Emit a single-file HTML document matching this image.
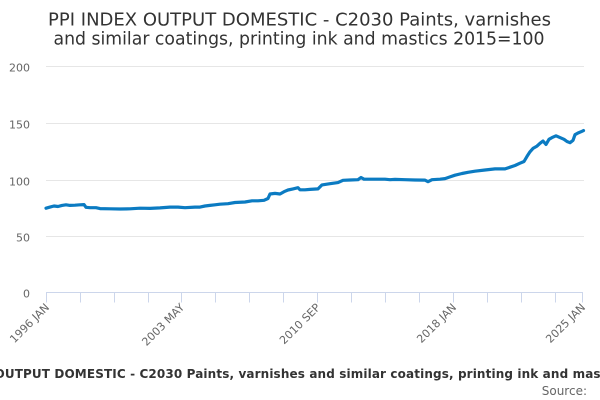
<!DOCTYPE html>
<html>
<head>
<meta charset="utf-8">
<style>
  html, body { margin: 0; padding: 0; background: #ffffff; }
  body { width: 600px; height: 400px; overflow: hidden; }
  svg { display: block; font-family: "DejaVu Sans", "Liberation Sans", sans-serif; }
</style>
</head>
<body>
<svg width="600" height="400" viewBox="0 0 600 400" xmlns="http://www.w3.org/2000/svg">
  <rect x="0" y="0" width="600" height="400" fill="#ffffff"/>

  <!-- Title -->
  <text x="299.5" y="25.5" text-anchor="middle" font-size="18" fill="#333333">PPI INDEX OUTPUT DOMESTIC - C2030 Paints, varnishes</text>
  <text x="53.5" y="44.5" font-size="18" fill="#333333" textLength="491" lengthAdjust="spacingAndGlyphs">and similar coatings, printing ink and mastics 2015=100</text>

  <!-- Gridlines -->
  <g stroke="#e6e6e6" stroke-width="1">
    <line x1="46" y1="66.5" x2="584" y2="66.5"/>
    <line x1="46" y1="123.5" x2="584" y2="123.5"/>
    <line x1="46" y1="180.5" x2="584" y2="180.5"/>
    <line x1="46" y1="236.5" x2="584" y2="236.5"/>
  </g>

  <!-- Y axis labels -->
  <g font-size="11" fill="#666666" text-anchor="end">
    <text x="30" y="71.5">200</text>
    <text x="30" y="128.5">150</text>
    <text x="30" y="185.5">100</text>
    <text x="30" y="241.5">50</text>
    <text x="30" y="297.5">0</text>
  </g>

  <!-- X axis line and ticks -->
  <g stroke="#ccd6eb" stroke-width="1">
    <line x1="46" y1="292.5" x2="583" y2="292.5"/>
    <line x1="46.5" y1="292.5" x2="46.5" y2="302.5"/>
    <line x1="80.5" y1="292.5" x2="80.5" y2="302.5"/>
    <line x1="114.5" y1="292.5" x2="114.5" y2="302.5"/>
    <line x1="148.5" y1="292.5" x2="148.5" y2="302.5"/>
    <line x1="181.5" y1="292.5" x2="181.5" y2="302.5"/>
    <line x1="215.5" y1="292.5" x2="215.5" y2="302.5"/>
    <line x1="249.5" y1="292.5" x2="249.5" y2="302.5"/>
    <line x1="283.5" y1="292.5" x2="283.5" y2="302.5"/>
    <line x1="317.5" y1="292.5" x2="317.5" y2="302.5"/>
    <line x1="351.5" y1="292.5" x2="351.5" y2="302.5"/>
    <line x1="385.5" y1="292.5" x2="385.5" y2="302.5"/>
    <line x1="419.5" y1="292.5" x2="419.5" y2="302.5"/>
    <line x1="453.5" y1="292.5" x2="453.5" y2="302.5"/>
    <line x1="487.5" y1="292.5" x2="487.5" y2="302.5"/>
    <line x1="521.5" y1="292.5" x2="521.5" y2="302.5"/>
    <line x1="555.5" y1="292.5" x2="555.5" y2="302.5"/>
    <line x1="582.5" y1="292.5" x2="582.5" y2="302.5"/>
  </g>

  <!-- X axis labels (rotated -45) -->
  <g font-size="11" fill="#666666" text-anchor="end">
    <text transform="translate(50,308) rotate(-45)">1996 JAN</text>
    <text transform="translate(185,308) rotate(-45)">2003 MAY</text>
    <text transform="translate(321,308) rotate(-45)">2010 SEP</text>
    <text transform="translate(457,308) rotate(-45)">2018 JAN</text>
    <text transform="translate(586,308) rotate(-45)">2025 JAN</text>
  </g>

  <!-- Data series -->
  <polyline fill="none" stroke="#0b7bc2" stroke-width="3.2" stroke-linejoin="round" stroke-linecap="round"
    points="46,208.2 50,207.1 54,206.0 58,206.5 62,205.4 66,204.8 70,205.4 75,205.2 80,204.8 84,204.6 86,207.3 90,207.7 96,207.7 100,208.6 110,208.8 120,209.0 130,208.8 140,208.2 150,208.4 160,207.9 170,207.1 178,207.1 185,207.7 195,207.1 200,207.1 205,206.0 210,205.4 215,204.8 220,204.2 228,203.7 235,202.5 245,202.0 252,200.8 258,200.8 264,200.3 268,198.5 270,194.0 275,193.4 280,194.0 284,191.7 288,190.0 293,188.9 298,187.7 300,189.8 305,189.8 310,189.4 318,188.9 322,184.9 330,183.7 338,182.6 343,180.3 350,180.0 358,179.7 361,177.5 364,179.2 375,179.2 385,179.2 390,179.7 395,179.4 405,179.7 415,180.0 425,180.1 428,181.7 432,179.7 440,179.2 445,178.6 450,176.9 455,175.2 462,173.5 468,172.3 475,171.2 485,170.0 495,168.9 505,168.9 510,167.2 515,165.5 520,163.2 524,161.5 527,156.4 530,151.8 533,148.4 537,146.1 540,143.3 543,141.0 546,144.4 549,139.3 552,137.6 556,135.8 560,137.6 564,139.3 567,141.5 570,142.7 573,140.4 575,134.7 578,133.0 582,131.3 583.5,130.6"/>

  <!-- Legend (clipped) -->
  <text x="-79" y="378" font-size="12" font-weight="bold" fill="#333333" textLength="778" lengthAdjust="spacing">PPI INDEX OUTPUT DOMESTIC - C2030 Paints, varnishes and similar coatings, printing ink and mastics 2015=100</text>

  <!-- Credits -->
  <text x="587" y="395" text-anchor="end" font-size="12" fill="#666666">Source:</text>
</svg>
</body>
</html>
